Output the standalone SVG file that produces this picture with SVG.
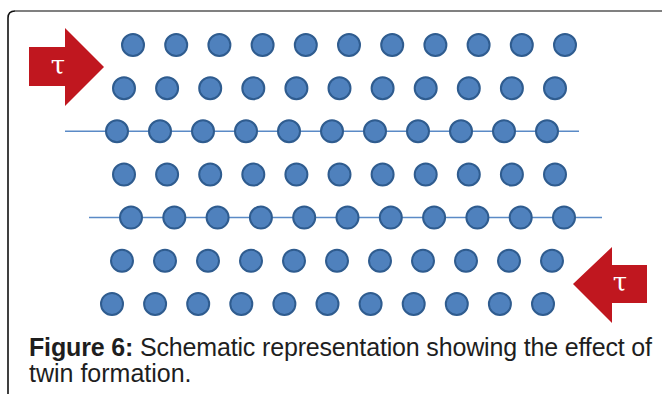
<svg xmlns="http://www.w3.org/2000/svg" width="662" height="394" viewBox="0 0 662 394">
  <style>
    .atom { fill: #4f81bd; stroke: #2f5c8f; stroke-width: 2; }
    .plane { stroke: #5a8ac6; stroke-width: 1.5; fill: none; }
    .shear { fill: #c0171f; }
    .tau { fill: #ffffff; font-family: "DejaVu Serif", "Liberation Serif", serif; font-size: 26px; text-anchor: middle; }
    .cap { font-family: "Liberation Sans", Arial, sans-serif; font-size: 25px; fill: #1e1e1e; }
  </style>
  <defs>
    <circle id="atom" r="11" class="atom"/>
  </defs>

  <!-- frame -->
  <path d="M8,394 V18 Q8,11 15,11" fill="none" stroke="#111111" stroke-width="1.6"/>
  <line x1="15" y1="11" x2="662" y2="11" stroke="#808080" stroke-width="2.2"/>

  <!-- twin boundary planes -->
  <g id="connectors">
    <line class="plane" x1="65" y1="131.3" x2="579" y2="131.3"/>
    <line class="plane" x1="89" y1="217.6" x2="602" y2="217.6"/>
  </g>

  <!-- atom rows -->
  <g id="row1">
    <use href="#atom" x="133" y="45"/><use href="#atom" x="176.2" y="45"/><use href="#atom" x="219.4" y="45"/><use href="#atom" x="262.6" y="45"/><use href="#atom" x="305.8" y="45"/><use href="#atom" x="349" y="45"/><use href="#atom" x="392.2" y="45"/><use href="#atom" x="435.4" y="45"/><use href="#atom" x="478.6" y="45"/><use href="#atom" x="521.8" y="45"/><use href="#atom" x="565" y="45"/>
  </g>
  <g id="row2">
    <use href="#atom" x="124" y="88.2"/><use href="#atom" x="167.1" y="88.2"/><use href="#atom" x="210.2" y="88.2"/><use href="#atom" x="253.3" y="88.2"/><use href="#atom" x="296.4" y="88.2"/><use href="#atom" x="339.5" y="88.2"/><use href="#atom" x="382.6" y="88.2"/><use href="#atom" x="425.7" y="88.2"/><use href="#atom" x="468.8" y="88.2"/><use href="#atom" x="511.9" y="88.2"/><use href="#atom" x="555" y="88.2"/>
  </g>
  <g id="row3">
    <use href="#atom" x="117" y="131.3"/><use href="#atom" x="160" y="131.3"/><use href="#atom" x="203" y="131.3"/><use href="#atom" x="246" y="131.3"/><use href="#atom" x="289" y="131.3"/><use href="#atom" x="332" y="131.3"/><use href="#atom" x="375" y="131.3"/><use href="#atom" x="418" y="131.3"/><use href="#atom" x="461" y="131.3"/><use href="#atom" x="504" y="131.3"/><use href="#atom" x="547" y="131.3"/>
  </g>
  <g id="row4">
    <use href="#atom" x="124" y="174.5"/><use href="#atom" x="167.1" y="174.5"/><use href="#atom" x="210.2" y="174.5"/><use href="#atom" x="253.3" y="174.5"/><use href="#atom" x="296.4" y="174.5"/><use href="#atom" x="339.5" y="174.5"/><use href="#atom" x="382.6" y="174.5"/><use href="#atom" x="425.7" y="174.5"/><use href="#atom" x="468.8" y="174.5"/><use href="#atom" x="511.9" y="174.5"/><use href="#atom" x="555" y="174.5"/>
  </g>
  <g id="row5">
    <use href="#atom" x="131" y="217.6"/><use href="#atom" x="174.3" y="217.6"/><use href="#atom" x="217.6" y="217.6"/><use href="#atom" x="260.9" y="217.6"/><use href="#atom" x="304.2" y="217.6"/><use href="#atom" x="347.5" y="217.6"/><use href="#atom" x="390.8" y="217.6"/><use href="#atom" x="434.1" y="217.6"/><use href="#atom" x="477.4" y="217.6"/><use href="#atom" x="520.7" y="217.6"/><use href="#atom" x="564" y="217.6"/>
  </g>
  <g id="row6">
    <use href="#atom" x="122" y="260.8"/><use href="#atom" x="165" y="260.8"/><use href="#atom" x="208" y="260.8"/><use href="#atom" x="251" y="260.8"/><use href="#atom" x="294" y="260.8"/><use href="#atom" x="337" y="260.8"/><use href="#atom" x="380" y="260.8"/><use href="#atom" x="423" y="260.8"/><use href="#atom" x="466" y="260.8"/><use href="#atom" x="509" y="260.8"/><use href="#atom" x="552" y="260.8"/>
  </g>
  <g id="row7">
    <use href="#atom" x="112" y="303.9"/><use href="#atom" x="155.1" y="303.9"/><use href="#atom" x="198.2" y="303.9"/><use href="#atom" x="241.3" y="303.9"/><use href="#atom" x="284.4" y="303.9"/><use href="#atom" x="327.5" y="303.9"/><use href="#atom" x="370.6" y="303.9"/><use href="#atom" x="413.7" y="303.9"/><use href="#atom" x="456.8" y="303.9"/><use href="#atom" x="499.9" y="303.9"/><use href="#atom" x="543" y="303.9"/>
  </g>

  <!-- applied shear stress arrows -->
  <g id="shear-left">
    <polygon class="shear" points="29,47 65,47 65,28 104,67 65,106 65,86 29,86"/>
    <text class="tau" x="58" y="74">τ</text>
  </g>
  <g id="shear-right">
    <polygon class="shear" points="647,265 612,265 612,247 573,284 612,323 612,303 647,303"/>
    <text class="tau" x="620" y="291">τ</text>
  </g>

  <!-- caption -->
  <g id="caption">
    <text class="cap" x="29" y="356" textLength="623" lengthAdjust="spacing"><tspan font-weight="bold">Figure 6:</tspan> Schematic representation showing the effect of</text>
    <text class="cap" x="29" y="382">twin formation.</text>
  </g>
</svg>
